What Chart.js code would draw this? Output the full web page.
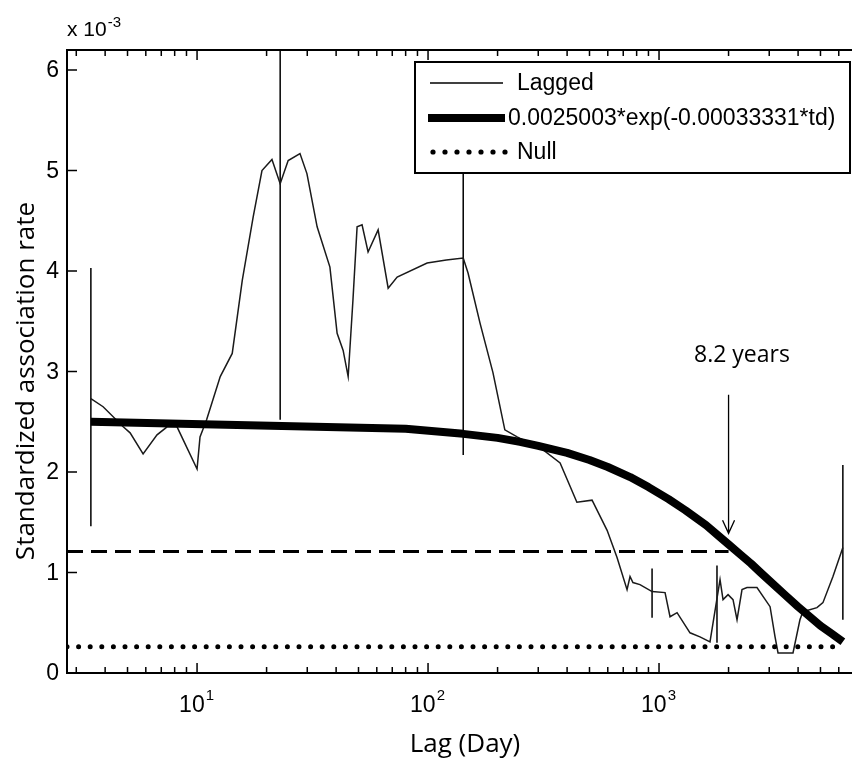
<!DOCTYPE html>
<html>
<head>
<meta charset="utf-8">
<script src="https://cdn.jsdelivr.net/npm/chart.js@4.4.1/dist/chart.umd.min.js"></script>
<style>
html, body { margin: 0; padding: 0; background: #fff; overflow: hidden; }
#wrap { position: relative; width: 852px; height: 759px; }
</style>
</head>
<body>
<div id="wrap"><canvas id="chart_sar"></canvas></div>
<script>
// lagged association rate (x 10^-3) against lag in days
var lag_days = [3.47, 3.92, 4.79, 5.13, 5.84, 6.71, 7.42, 8.19, 10.0, 10.3, 11.0, 12.6, 14.2, 15.7, 17.5, 19.1, 21.1, 22.9, 24.8, 27.9,
        29.9, 33.1, 37.6, 40.4, 42.9, 45.1, 47.3, 49.3, 51.8, 55.0, 60.8, 67.2, 73.5, 99.1, 120, 142, 149, 168, 191, 215,
        243, 315, 373, 441, 513, 596, 658, 727, 749, 771, 827, 933, 1062, 1116, 1197, 1362, 1504, 1662, 1837, 1893,
        1990, 2091, 2176, 2287, 2403, 2655, 3025, 3179, 3275, 3802, 4074, 4198, 4828, 5124, 5663, 6250];
var lag_rate = [2.73, 2.65, 2.45, 2.39, 2.18, 2.37, 2.45, 2.45, 2.03, 2.35, 2.52, 2.95, 3.18, 3.91, 4.54, 5.00, 5.11, 4.87, 5.10, 5.17,
        4.97, 4.44, 4.04, 3.38, 3.21, 2.95, 3.71, 4.44, 4.46, 4.19, 4.41, 3.83, 3.94, 4.08, 4.11, 4.13, 3.98, 3.48, 2.99, 2.42,
        2.35, 2.22, 2.09, 1.70, 1.72, 1.42, 1.15, 0.83, 0.96, 0.90, 0.88, 0.81, 0.80, 0.56, 0.60, 0.40, 0.36, 0.31, 0.93, 0.73,
        0.78, 0.73, 0.53, 0.83, 0.85, 0.85, 0.66, 0.36, 0.20, 0.20, 0.53, 0.61, 0.65, 0.70, 0.96, 1.25];

// jackknife error bars
var err_days = [3.47, 22.9, 142, 933, 1782, 6250];
var err_low = [1.46, 2.52, 2.17, 0.55, 0.30, 0.53];
var err_high = [4.03, 7.20, 6.07, 1.04, 1.07, 2.07];

// fitted model
var fit_days = [3.47, 80, 142, 200, 250, 300, 400, 500, 600, 750, 900, 1100, 1300, 1600, 1800, 2000, 2250, 2500, 2750,
        3000, 3500, 4000, 4500, 5000, 5600, 6250];
var fit_rate = [2.50, 2.43, 2.38, 2.34, 2.30, 2.26, 2.19, 2.12, 2.05, 1.95, 1.85, 1.73, 1.62, 1.47, 1.37, 1.28, 1.18, 1.09, 1.00,
        0.92, 0.78, 0.66, 0.56, 0.47, 0.39, 0.31];
var fit_label = "0.0025003*exp(-0.00033331*td)";

var null_days = [2.735, 6250];
var null_rate = [0.26, 0.26];
var half_days = [2.735, 2000];
var half_rate = [1.21, 1.21];

var arrow_day = 2000;
var arrow_from = 2.77;
var arrow_to = 1.39;
var note_text = "8.2 years";
var note_day = 2285;
var note_rate = 3.16;

var x_min = 2.735;
var x_max = 6846;
var y_min = 0;
var y_max = 6.2;
var x_ticks = [3, 4, 5, 6, 7, 8, 9, 10, 20, 30, 40, 50, 60, 70, 80, 90, 100, 200, 300, 400, 500, 600, 700, 800, 900,
        1000, 2000, 3000, 4000, 5000, 6000];
var x_major = [10, 100, 1000];
var x_major_exp = ["1", "2", "3"];
var y_ticks = [0, 1, 2, 3, 4, 5, 6];

var x_title = "Lag (Day)";
var y_title = "Standardized association rate";

function to_points(xs, ys) {
        var out = [];
        for (let i = 0; i < xs.length; i++) {
                out.push({x: xs[i], y: ys[i]});
        }
        return out;
}

function error_points() {
        var out = [];
        for (let i = 0; i < err_days.length; i++) {
                out.push({x: err_days[i], y: err_low[i]});
                out.push({x: err_days[i], y: err_high[i]});
                out.push({x: err_days[i], y: null});
        }
        return out;
}

var tick_font = "23px 'Liberation Sans', Arial, sans-serif";
var sup_font = "15px 'Liberation Sans', Arial, sans-serif";

var matlab_axes = {
        id: "matlab_axes",
        afterDatasetsDraw: function(chart) {
                var ctx = chart.ctx;
                var a = chart.chartArea;
                var sx = chart.scales.x;
                var sy = chart.scales.y;
                ctx.save();

                // arrow and note
                var ax = sx.getPixelForValue(arrow_day);
                var ay0 = sy.getPixelForValue(arrow_from);
                var ay1 = sy.getPixelForValue(arrow_to);
                ctx.strokeStyle = "#000";
                ctx.lineWidth = 1.3;
                ctx.beginPath();
                ctx.moveTo(ax, ay0);
                ctx.lineTo(ax, ay1);
                ctx.moveTo(ax - 6, ay1 - 13);
                ctx.lineTo(ax, ay1);
                ctx.lineTo(ax + 6, ay1 - 13);
                ctx.stroke();
                ctx.fillStyle = "#000";
                ctx.font = "23px 'Open Sans', sans-serif";
                ctx.textAlign = "center";
                ctx.textBaseline = "middle";
                ctx.fillText(note_text, sx.getPixelForValue(note_day), sy.getPixelForValue(note_rate));

                // legend box
                var lx = 415, ly = 62, lw = 435, lh = 111;
                ctx.fillStyle = "#fff";
                ctx.fillRect(lx, ly, lw, lh);
                ctx.lineWidth = 2;
                ctx.strokeRect(lx, ly, lw, lh);
                ctx.lineCap = "butt";
                ctx.lineWidth = 1.5;
                ctx.beginPath();
                ctx.moveTo(430, 83);
                ctx.lineTo(503, 83);
                ctx.stroke();
                ctx.lineWidth = 8;
                ctx.beginPath();
                ctx.moveTo(428, 118);
                ctx.lineTo(505, 118);
                ctx.stroke();
                ctx.fillStyle = "#000";
                for (let i = 0; i < 7; i++) {
                        ctx.beginPath();
                        ctx.arc(433 + i * 12, 152, 2.6, 0, Math.PI * 2);
                        ctx.fill();
                }
                ctx.font = tick_font;
                ctx.textAlign = "left";
                ctx.fillText("Lagged", 517, 84);
                ctx.fillText(fit_label, 508, 119);
                ctx.fillText("Null", 517, 153);

                // frame (right edge runs off the picture)
                ctx.lineWidth = 2;
                ctx.beginPath();
                ctx.moveTo(a.right + 4, a.top);
                ctx.lineTo(a.left, a.top);
                ctx.lineTo(a.left, a.bottom);
                ctx.lineTo(a.right + 4, a.bottom);
                ctx.stroke();

                // inward ticks
                ctx.lineWidth = 1.5;
                ctx.beginPath();
                x_ticks.forEach(function(v) {
                        var p = sx.getPixelForValue(v);
                        var len = x_major.indexOf(v) >= 0 ? 10 : 6;
                        ctx.moveTo(p, a.bottom);
                        ctx.lineTo(p, a.bottom - len);
                        ctx.moveTo(p, a.top);
                        ctx.lineTo(p, a.top + len);
                });
                y_ticks.forEach(function(v) {
                        var p = sy.getPixelForValue(v);
                        ctx.moveTo(a.left, p);
                        ctx.lineTo(a.left + 10, p);
                });
                ctx.stroke();

                // tick labels
                ctx.fillStyle = "#000";
                ctx.font = tick_font;
                ctx.textAlign = "right";
                ctx.textBaseline = "middle";
                y_ticks.forEach(function(v) {
                        ctx.fillText(String(v), a.left - 8, sy.getPixelForValue(v) + 1);
                });
                ctx.textBaseline = "alphabetic";
                ctx.textAlign = "left";
                x_major.forEach(function(v, i) {
                        var p = sx.getPixelForValue(v);
                        ctx.font = tick_font;
                        var w1 = ctx.measureText("10").width;
                        ctx.font = sup_font;
                        var w2 = ctx.measureText(x_major_exp[i]).width;
                        var x0 = p - (w1 + w2) / 2 - 1;
                        ctx.font = tick_font;
                        ctx.fillText("10", x0, a.bottom + 39);
                        ctx.font = sup_font;
                        ctx.fillText(x_major_exp[i], x0 + w1 + 1, a.bottom + 27);
                });

                // exponent label
                ctx.font = "21px 'Liberation Sans', Arial, sans-serif";
                ctx.fillText("x 10", a.left, 36);
                var wx = ctx.measureText("x 10").width;
                ctx.font = sup_font;
                ctx.fillText("-3", a.left + wx + 1, 27);

                // axis titles
                ctx.font = "26px 'Open Sans', sans-serif";
                ctx.textAlign = "center";
                ctx.fillText(x_title, 465, 752);
                ctx.translate(34, 381);
                ctx.rotate(-Math.PI / 2);
                ctx.fillText(y_title, 0, 0);

                ctx.restore();
        }
};

new Chart("chart_sar", {
        type: "line",
        data: {
                datasets: [{
                        label: "Lagged",
                        data: to_points(lag_days, lag_rate),
                        borderColor: "#1a1a1a",
                        borderWidth: 1.5,
                        order: 2
                }, {
                        label: fit_label,
                        data: to_points(fit_days, fit_rate),
                        borderColor: "#000",
                        borderWidth: 8,
                        borderJoinStyle: "round",
                        order: 0
                }, {
                        label: "Null",
                        data: to_points(null_days, null_rate),
                        borderColor: "#000",
                        borderWidth: 5,
                        borderCapStyle: "round",
                        borderDash: [0, 11.6],
                        order: 1
                }, {
                        label: "half",
                        data: to_points(half_days, half_rate),
                        borderColor: "#000",
                        borderWidth: 3,
                        borderDash: [16, 8],
                        order: 1
                }, {
                        label: "errors",
                        data: error_points(),
                        borderColor: "#000",
                        borderWidth: 1.5,
                        spanGaps: false,
                        clip: 0,
                        order: 3
                }]
        },
        options: {
                responsive: true,
                maintainAspectRatio: false,
                animation: false,
                layout: { padding: { top: 50, left: 0, right: 0, bottom: 0 } },
                elements: {
                        point: { radius: 0 },
                        line: { tension: 0, fill: false }
                },
                scales: {
                        x: {
                                type: "logarithmic",
                                min: x_min,
                                max: x_max,
                                ticks: { display: false },
                                grid: { display: false },
                                border: { display: false },
                                afterFit: function(scale) { scale.height = 86; }
                        },
                        y: {
                                type: "linear",
                                min: y_min,
                                max: y_max,
                                ticks: { display: false },
                                grid: { display: false },
                                border: { display: false },
                                afterFit: function(scale) { scale.width = 67; }
                        }
                },
                plugins: {
                        legend: { display: false },
                        tooltip: { enabled: false }
                }
        },
        plugins: [matlab_axes]
});
</script>
</body>
</html>
